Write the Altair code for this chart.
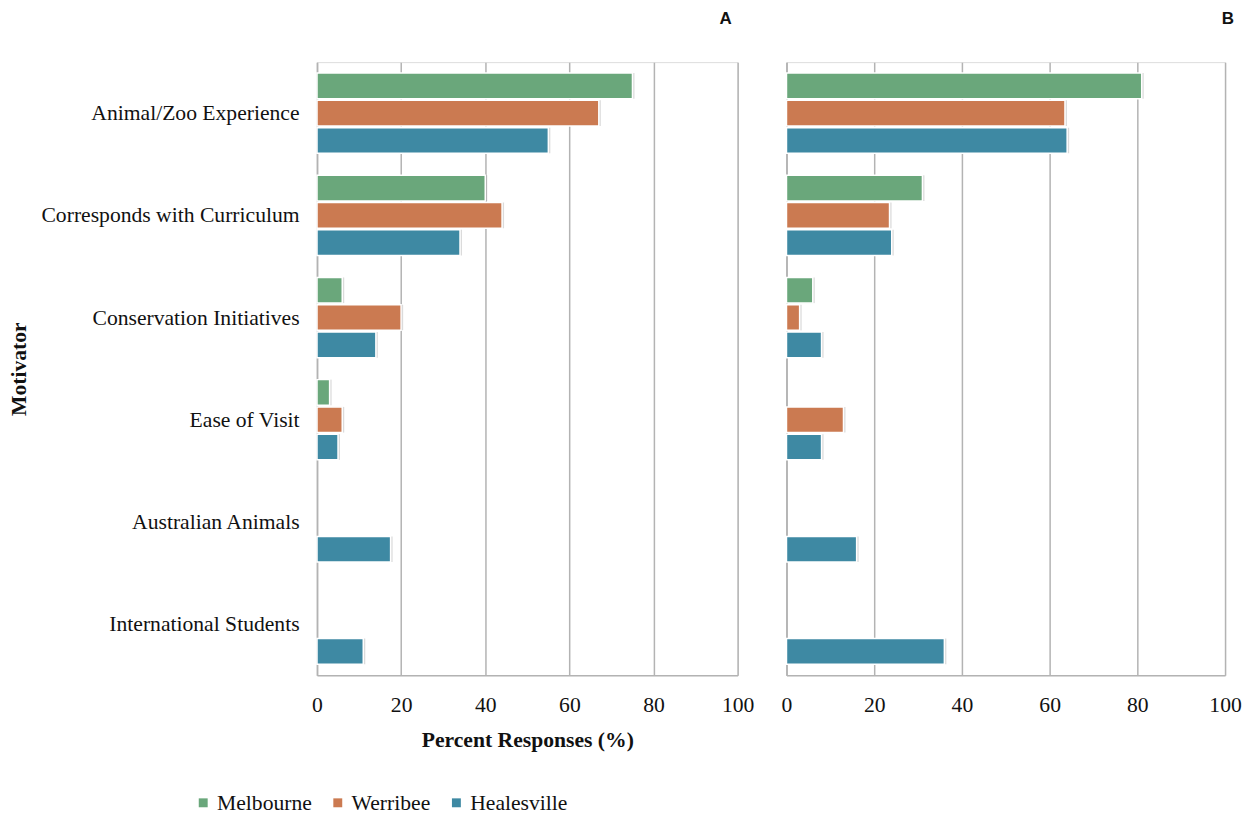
import altair as alt
import pandas as pd

motivators = ["Animal/Zoo Experience", "Corresponds with Curriculum", "Conservation Initiatives",
              "Ease of Visit", "Australian Animals", "International Students"]
sites = ["Melbourne", "Werribee", "Healesville"]
colors = ["#6aa77b", "#cb7a51", "#3e89a3"]

# Panel A values (None = no bar)
a_melbourne = [75, 40, 6, 3, None, None]
a_werribee = [67, 44, 20, 6, None, None]
a_healesville = [55, 34, 14, 5, 17.5, 11]
# Panel B values
b_melbourne = [81, 31, 6, None, None, None]
b_werribee = [63.5, 23.5, 3, 13, None, None]
b_healesville = [64, 24, 8, 8, 16, 36]

rows = []
for panel, series in [("A", [a_melbourne, a_werribee, a_healesville]),
                      ("B", [b_melbourne, b_werribee, b_healesville])]:
    for site, vals in zip(sites, series):
        for m, v in zip(motivators, vals):
            if v is not None:
                rows.append({"panel": panel, "Motivator": m, "Site": site, "Value": v})
df = pd.DataFrame(rows)

SERIF = "Liberation Serif"
FS = 21.7
grid_col = "#b3b3b3"

color_scale = alt.Scale(domain=sites, range=colors)


def panel(name, width, show_y, show_legend):
    base = alt.Chart(df[df.panel == name])
    y_axis = alt.Axis(title="Motivator", labelFont=SERIF, labelFontSize=FS, labelColor="#111",
                      titleFont=SERIF, titleFontSize=FS, titleFontWeight="bold", titleColor="#111",
                      ticks=False, labelPadding=18, titleX=-287, domainColor=grid_col,
                      domainWidth=1.5, labelLimit=400) if show_y else \
        alt.Axis(title=None, labels=False, ticks=False, domainColor=grid_col, domainWidth=1.5)
    x_axis = alt.Axis(title="Percent Responses (%)" if show_y else None, values=[0, 20, 40, 60, 80, 100],
                      labelFont=SERIF, labelFontSize=FS, labelColor="#111", ticks=False, labelPadding=19,
                      titleFont=SERIF, titleFontSize=FS, titleFontWeight="bold", titleColor="#111",
                      titlePadding=14, grid=True, gridColor=grid_col, gridWidth=1.5,
                      domainColor=grid_col, domainWidth=1.5, labelFlush=False)
    x = alt.X("Value:Q", scale=alt.Scale(domain=[0, 100], nice=False), axis=x_axis)
    y = alt.Y("Motivator:N", sort=motivators, axis=y_axis,
              scale=alt.Scale(paddingInner=0.215, paddingOuter=0.107))
    yo = alt.YOffset("Site:N", sort=sites, scale=alt.Scale(domain=sites, paddingInner=0.06))
    if show_legend:
        legend = alt.Legend(title=None, orient="none", direction="horizontal", legendX=-125, legendY=732,
                            symbolType="square", symbolSize=80, symbolStrokeWidth=0,
                            labelFont=SERIF, labelFontSize=FS, labelColor="#111", columnPadding=15,
                            labelOffset=3)
    else:
        legend = None
    shadow = base.mark_bar(color="#888", opacity=0.3, xOffset=2, yOffset=3).encode(x=x, y=y, yOffset=yo)
    bars = base.mark_bar(stroke="white", strokeWidth=1.5).encode(
        x=x, y=y, yOffset=yo,
        color=alt.Color("Site:N", scale=color_scale, legend=legend))
    return alt.layer(shadow, bars).properties(
        width=width, height=615,
        title=alt.TitleParams(name, anchor="end", frame="group", font="Liberation Sans", fontSize=17,
                              fontWeight="bold", color="#111", offset=34, dx=-6 if name == "A" else 9))


chart = alt.hconcat(panel("A", 422, True, True), panel("B", 440, False, False), spacing=26,
                    padding=0).configure_view(stroke=None).configure(background="white")

chart.save("out.html", embed_options={"renderer": "svg", "actions": False})
